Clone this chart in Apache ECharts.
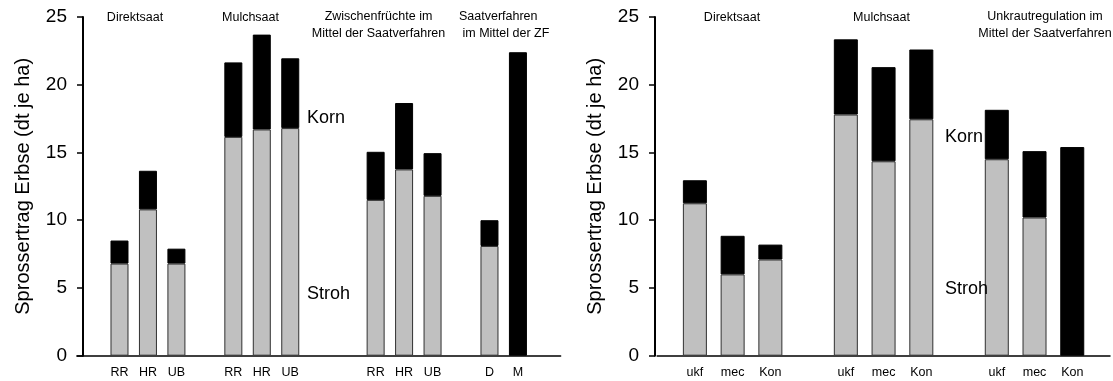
<!DOCTYPE html>
<html>
<head>
<meta charset="utf-8">
<script src="https://cdn.jsdelivr.net/npm/echarts@6/dist/echarts.min.js"></script>
<style>
html,body{margin:0;padding:0;background:#fff;}
#c{width:1113px;height:381px;}
</style>
</head>
<body>
<div id="c"></div>
<script>
// ---- data (left panel: Zwischenfrüchte / Saatverfahren) ----
const leftCats  = ['', 'RR', 'HR', 'UB', '', 'RR', 'HR', 'UB', '', '', 'RR', 'HR', 'UB', '', 'D', 'M', ''];
const leftStroh = [null, 6.8, 10.8, 6.8, null, 16.15, 16.7, 16.8, null, null, 11.5, 13.75, 11.8, null, 8.1, null, null];
const leftKorn  = [null, 1.7, 2.85, 1.1, null, 5.5, 7.0, 5.15, null, null, 3.55, 4.9, 3.15, null, 1.9, 22.4, null];

// ---- data (right panel: Unkrautregulation) ----
const rightCats  = ['', 'ukf', 'mec', 'Kon', '', 'ukf', 'mec', 'Kon', '', 'ukf', 'mec', 'Kon', ''];
const rightStroh = [null, 11.25, 6.0, 7.1, null, 17.8, 14.35, 17.45, null, 14.5, 10.2, null, null];
const rightKorn  = [null, 1.7, 2.85, 1.1, null, 5.55, 6.95, 5.15, null, 3.65, 4.9, 15.4, null];

const yTicks = [0, 5, 10, 15, 20, 25];
const yName = 'Sprossertrag Erbse (dt je ha)';

const FONT = 'Liberation Sans, Arial, sans-serif';
const chart = echarts.init(document.getElementById('c'), null, {renderer: 'canvas'});

function yAxisCfg(gridIndex, offset) {
  return {
    type: 'value', gridIndex: gridIndex, min: yTicks[0], max: yTicks[yTicks.length - 1], interval: 5,
    offset: offset,
    name: yName, nameLocation: 'middle', nameGap: 50,
    nameTextStyle: {fontFamily: FONT, fontSize: 20, color: '#000'},
    axisLine: {show: true, lineStyle: {color: '#000', width: 2}},
    axisTick: {show: true, length: 6, lineStyle: {color: '#000', width: 1.5}},
    axisLabel: {fontFamily: FONT, fontSize: 19, color: '#000', margin: 16},
    splitLine: {show: false}
  };
}
function xAxisCfg(gridIndex, cats, gap) {
  return {
    type: 'category', gridIndex: gridIndex, data: cats, boundaryGap: gap,
    axisLine: {show: true, onZero: false, lineStyle: {color: '#000', width: 1.5}},
    axisTick: {show: false},
    axisLabel: {fontFamily: FONT, fontSize: 12.5, color: '#000', margin: 10, interval: 0}
  };
}
const grayStyle = {color: '#c0c0c0', borderColor: '#303030', borderWidth: 1};
const blackStyle = {color: '#000', borderColor: '#000', borderWidth: 1};

function txt(text, x, y, size, align) {
  return {type: 'text', x: x, y: y, z: 100, style: {text: text, fontFamily: FONT, fontSize: size, fill: '#000',
    align: align || 'center', verticalAlign: 'middle', lineHeight: size * 1.3}};
}

chart.setOption({
  animation: false,
  backgroundColor: '#fff',
  grid: [
    {left: 76.8, top: 17, width: 17 * 28.46, bottom: 25.3, containLabel: false},
    {left: 657.15, top: 17, width: 12 * 38.35, bottom: 25.3, containLabel: false}
  ],
  xAxis: [xAxisCfg(0, leftCats, true), xAxisCfg(1, rightCats, false)],
  yAxis: [yAxisCfg(0, -6.2), yAxisCfg(1, 2.15)],
  series: [
    {type: 'bar', xAxisIndex: 0, yAxisIndex: 0, stack: 'L', data: leftStroh, barWidth: 18, itemStyle: grayStyle},
    {type: 'bar', xAxisIndex: 0, yAxisIndex: 0, stack: 'L', data: leftKorn, barWidth: 18, itemStyle: blackStyle},
    {type: 'bar', xAxisIndex: 1, yAxisIndex: 1, stack: 'R', data: rightStroh, barWidth: 24, itemStyle: grayStyle},
    {type: 'bar', xAxisIndex: 1, yAxisIndex: 1, stack: 'R', data: rightKorn, barWidth: 24, itemStyle: blackStyle}
  ],
  graphic: [
    txt('Direktsaat', 135, 18, 12.5),
    txt('Mulchsaat', 250.5, 18, 12.5),
    txt('Zwischenfrüchte im\nMittel der Saatverfahren', 378.5, 25, 12.5),
    txt('Saatverfahren\n im Mittel der ZF', 459, 25, 12.5, 'left'),
    txt('Korn', 307, 118, 18, 'left'),
    txt('Stroh', 307, 294, 18, 'left'),
    txt('Direktsaat', 732, 18, 12.5),
    txt('Mulchsaat', 881.5, 18, 12.5),
    txt('Unkrautregulation im\nMittel der Saatverfahren', 1045, 25, 12.5),
    txt('Korn', 945, 137, 18, 'left'),
    txt('Stroh', 945, 289, 18, 'left', )
  ]
});
</script>
</body>
</html>
